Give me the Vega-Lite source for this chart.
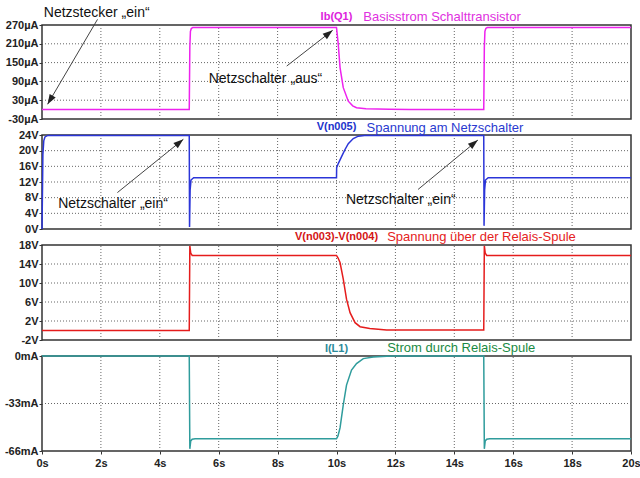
{
  "$schema": "https://vega.github.io/schema/vega-lite/v6.json",
  "padding": {"left": 3, "top": 5, "right": 0, "bottom": 0},
  "background": "white",
  "config": {
    "font": "Liberation Sans",
    "view": {"stroke": "#333333", "strokeWidth": 1.5},
    "axis": {"labelFont": "Liberation Sans", "labelFontWeight": "bold", "labelFontSize": 11, "labelColor": "#222222", "tickColor": "#333333", "tickSize": 3, "labelPadding": 1, "domain": false, "labelOverlap": false, "labelBound": false, "labelFlush": false, "grid": false}
  },
  "datasets": {
    "grid": [
      {"panel": 1, "t": 2, "v": -30, "t2": 2, "v2": 270}, {"panel": 1, "t": 4, "v": -30, "t2": 4, "v2": 270}, {"panel": 1, "t": 6, "v": -30, "t2": 6, "v2": 270}, {"panel": 1, "t": 8, "v": -30, "t2": 8, "v2": 270}, {"panel": 1, "t": 10, "v": -30, "t2": 10, "v2": 270}, {"panel": 1, "t": 12, "v": -30, "t2": 12, "v2": 270}, {"panel": 1, "t": 14, "v": -30, "t2": 14, "v2": 270}, {"panel": 1, "t": 16, "v": -30, "t2": 16, "v2": 270}, {"panel": 1, "t": 18, "v": -30, "t2": 18, "v2": 270},
      {"panel": 1, "t": 0, "v": 30, "t2": 20, "v2": 30}, {"panel": 1, "t": 0, "v": 90, "t2": 20, "v2": 90}, {"panel": 1, "t": 0, "v": 150, "t2": 20, "v2": 150}, {"panel": 1, "t": 0, "v": 210, "t2": 20, "v2": 210},
      {"panel": 2, "t": 2, "v": 0, "t2": 2, "v2": 24}, {"panel": 2, "t": 4, "v": 0, "t2": 4, "v2": 24}, {"panel": 2, "t": 6, "v": 0, "t2": 6, "v2": 24}, {"panel": 2, "t": 8, "v": 0, "t2": 8, "v2": 24}, {"panel": 2, "t": 10, "v": 0, "t2": 10, "v2": 24}, {"panel": 2, "t": 12, "v": 0, "t2": 12, "v2": 24}, {"panel": 2, "t": 14, "v": 0, "t2": 14, "v2": 24}, {"panel": 2, "t": 16, "v": 0, "t2": 16, "v2": 24}, {"panel": 2, "t": 18, "v": 0, "t2": 18, "v2": 24},
      {"panel": 2, "t": 0, "v": 4, "t2": 20, "v2": 4}, {"panel": 2, "t": 0, "v": 8, "t2": 20, "v2": 8}, {"panel": 2, "t": 0, "v": 12, "t2": 20, "v2": 12}, {"panel": 2, "t": 0, "v": 16, "t2": 20, "v2": 16}, {"panel": 2, "t": 0, "v": 20, "t2": 20, "v2": 20},
      {"panel": 3, "t": 2, "v": -2, "t2": 2, "v2": 18}, {"panel": 3, "t": 4, "v": -2, "t2": 4, "v2": 18}, {"panel": 3, "t": 6, "v": -2, "t2": 6, "v2": 18}, {"panel": 3, "t": 8, "v": -2, "t2": 8, "v2": 18}, {"panel": 3, "t": 10, "v": -2, "t2": 10, "v2": 18}, {"panel": 3, "t": 12, "v": -2, "t2": 12, "v2": 18}, {"panel": 3, "t": 14, "v": -2, "t2": 14, "v2": 18}, {"panel": 3, "t": 16, "v": -2, "t2": 16, "v2": 18}, {"panel": 3, "t": 18, "v": -2, "t2": 18, "v2": 18},
      {"panel": 3, "t": 0, "v": 2, "t2": 20, "v2": 2}, {"panel": 3, "t": 0, "v": 6, "t2": 20, "v2": 6}, {"panel": 3, "t": 0, "v": 10, "t2": 20, "v2": 10}, {"panel": 3, "t": 0, "v": 14, "t2": 20, "v2": 14},
      {"panel": 4, "t": 2, "v": -66, "t2": 2, "v2": 0}, {"panel": 4, "t": 4, "v": -66, "t2": 4, "v2": 0}, {"panel": 4, "t": 6, "v": -66, "t2": 6, "v2": 0}, {"panel": 4, "t": 8, "v": -66, "t2": 8, "v2": 0}, {"panel": 4, "t": 10, "v": -66, "t2": 10, "v2": 0}, {"panel": 4, "t": 12, "v": -66, "t2": 12, "v2": 0}, {"panel": 4, "t": 14, "v": -66, "t2": 14, "v2": 0}, {"panel": 4, "t": 16, "v": -66, "t2": 16, "v2": 0}, {"panel": 4, "t": 18, "v": -66, "t2": 18, "v2": 0},
      {"panel": 4, "t": 0, "v": -33, "t2": 20, "v2": -33}
    ],
    "ib": [
      {"t": 0, "v": 0}, {"t": 5.0, "v": 0}, {"t": 5.02, "v": 200}, {"t": 5.04, "v": 250}, {"t": 5.07, "v": 259}, {"t": 5.12, "v": 262},
      {"t": 10.0, "v": 262}, {"t": 10.06, "v": 208}, {"t": 10.12, "v": 134}, {"t": 10.23, "v": 70}, {"t": 10.4, "v": 27}, {"t": 10.55, "v": 12}, {"t": 10.68, "v": 6}, {"t": 11.0, "v": 3}, {"t": 11.8, "v": 1}, {"t": 12.5, "v": 0},
      {"t": 15.0, "v": 0}, {"t": 15.02, "v": 200}, {"t": 15.04, "v": 250}, {"t": 15.07, "v": 259}, {"t": 15.12, "v": 262}, {"t": 20, "v": 262}
    ],
    "vn005": [
      {"t": 0, "v": 0}, {"t": 0.02, "v": 12}, {"t": 0.03, "v": 19}, {"t": 0.06, "v": 22.5}, {"t": 0.1, "v": 23.5}, {"t": 0.2, "v": 23.9},
      {"t": 5.0, "v": 23.9}, {"t": 5.01, "v": 0.5}, {"t": 5.03, "v": 10}, {"t": 5.06, "v": 12.5}, {"t": 5.15, "v": 13.1},
      {"t": 10.0, "v": 13.1}, {"t": 10.005, "v": 15.65}, {"t": 10.06, "v": 16.7}, {"t": 10.18, "v": 18.6}, {"t": 10.29, "v": 20.3}, {"t": 10.4, "v": 21.8}, {"t": 10.57, "v": 23.1}, {"t": 10.74, "v": 23.7}, {"t": 10.95, "v": 23.9},
      {"t": 15.0, "v": 23.9}, {"t": 15.01, "v": 0.8}, {"t": 15.03, "v": 10}, {"t": 15.06, "v": 12.5}, {"t": 15.15, "v": 13.1}, {"t": 20, "v": 13.1}
    ],
    "vrel": [
      {"t": 0, "v": 0}, {"t": 5.0, "v": 0}, {"t": 5.02, "v": 17.8}, {"t": 5.05, "v": 16.3}, {"t": 5.1, "v": 15.8},
      {"t": 10.0, "v": 15.8}, {"t": 10.05, "v": 15.3}, {"t": 10.12, "v": 14.3}, {"t": 10.23, "v": 10.8}, {"t": 10.34, "v": 6.6}, {"t": 10.46, "v": 3.75}, {"t": 10.63, "v": 1.65}, {"t": 10.8, "v": 0.8}, {"t": 11.13, "v": 0.4}, {"t": 11.7, "v": 0.1},
      {"t": 15.0, "v": 0.1}, {"t": 15.02, "v": 17.8}, {"t": 15.05, "v": 16.3}, {"t": 15.1, "v": 15.8}, {"t": 20, "v": 15.8}
    ],
    "il1": [
      {"t": 0, "v": 0}, {"t": 5.0, "v": 0}, {"t": 5.02, "v": -64.5}, {"t": 5.05, "v": -59}, {"t": 5.1, "v": -57.8}, {"t": 5.2, "v": -57.5},
      {"t": 10.0, "v": -57.5}, {"t": 10.05, "v": -55.5}, {"t": 10.12, "v": -50}, {"t": 10.23, "v": -33.9}, {"t": 10.34, "v": -20.2}, {"t": 10.51, "v": -9.8}, {"t": 10.68, "v": -5.3}, {"t": 10.91, "v": -1.8}, {"t": 11.25, "v": -0.7}, {"t": 11.7, "v": -0.2}, {"t": 12, "v": 0},
      {"t": 15.0, "v": 0}, {"t": 15.02, "v": -64.5}, {"t": 15.05, "v": -59}, {"t": 15.1, "v": -57.8}, {"t": 15.2, "v": -57.5}, {"t": 20, "v": -57.5}
    ],
    "notes": [
      {"panel": 1, "kind": "note", "t": 0.06, "v": 308, "text": "Netzstecker „ein“"},
      {"panel": 1, "kind": "note", "t": 5.66, "v": 97, "text": "Netzschalter „aus“"},
      {"panel": 2, "kind": "note", "t": 0.55, "v": 6.3, "text": "Netzschalter „ein“"},
      {"panel": 2, "kind": "note", "t": 10.32, "v": 7.3, "text": "Netzschalter „ein“"},
      {"panel": 1, "kind": "name", "t": 10, "v": 295.5, "text": "Ib(Q1)"},
      {"panel": 1, "kind": "desc", "t": 10.91, "v": 297, "text": "Basisstrom Schalttransistor"},
      {"panel": 2, "kind": "name", "t": 10, "v": 26.0, "text": "V(n005)"},
      {"panel": 2, "kind": "desc", "t": 11.02, "v": 25.7, "text": "Spannung am Netzschalter"},
      {"panel": 3, "kind": "name", "t": 10, "v": 19.7, "text": "V(n003)-V(n004)"},
      {"panel": 3, "kind": "desc", "t": 11.72, "v": 19.6, "text": "Spannung über der Relais-Spule"},
      {"panel": 4, "kind": "name", "t": 10, "v": 5.0, "text": "I(L1)"},
      {"panel": 4, "kind": "desc", "t": 11.72, "v": 5.3, "text": "Strom durch Relais-Spule"}
    ],
    "arrows": [
      {"panel": 1, "id": "a1", "t": 0.19, "v": 17, "t2": 1.885, "v2": 288},
      {"panel": 1, "id": "a2", "t": 9.87, "v": 253, "t2": 8.31, "v2": 139},
      {"panel": 2, "id": "a3", "t": 4.8, "v": 22.9, "t2": 2.56, "v2": 9.3},
      {"panel": 2, "id": "a4", "t": 14.8, "v": 22.7, "t2": 12.77, "v2": 10.1}
    ]
  },
  "vconcat": [
    {
      "width": 589, "height": 94,
      "encoding": {
        "x": {"field": "t", "type": "quantitative", "scale": {"domain": [0, 20], "nice": false}, "axis": {"values": [0, 2, 4, 6, 8, 10, 12, 14, 16, 18, 20], "labels": false, "ticks": false, "title": null}},
        "y": {"field": "v", "type": "quantitative", "scale": {"domain": [-30, 270], "nice": false, "zero": false}, "axis": {"values": [-30, 30, 90, 150, 210, 270], "labelExpr": "datum.value + 'µA'", "title": null}}
      },
      "layer": [
        {"data": {"name": "grid"}, "transform": [{"filter": "datum.panel == 1"}], "mark": {"type": "rule", "color": "#666666", "strokeWidth": 1, "strokeDash": [1, 2]},
         "encoding": {"x2": {"field": "t2"}, "y2": {"field": "v2"}}},
        {"data": {"name": "ib"}, "mark": {"type": "line", "color": "#ee22ee", "strokeWidth": 1.5}},
        {"data": {"name": "arrows"}, "transform": [{"filter": "datum.panel == 1"}], "mark": {"type": "rule", "color": "#444444", "strokeWidth": 1},
         "encoding": {"x2": {"field": "t2"}, "y2": {"field": "v2"}}},
        {"data": {"name": "arrows"}, "transform": [{"filter": "datum.id == 'a1'"}], "mark": {"type": "point", "shape": "M0,0L-0.35,1L0.35,1Z", "size": 400, "filled": true, "opacity": 1, "color": "#222222", "angle": 210.5}},
        {"data": {"name": "arrows"}, "transform": [{"filter": "datum.id == 'a2'"}], "mark": {"type": "point", "shape": "M0,0L-0.35,1L0.35,1Z", "size": 400, "filled": true, "opacity": 1, "color": "#222222", "angle": 52}},
        {"data": {"name": "notes"}, "transform": [{"filter": "datum.panel == 1 && datum.kind == 'note'"}], "mark": {"type": "text", "align": "left", "baseline": "middle", "fontSize": 14, "color": "#111111"},
         "encoding": {"text": {"field": "text"}}},
        {"data": {"name": "notes"}, "transform": [{"filter": "datum.panel == 1 && datum.kind == 'name'"}], "mark": {"type": "text", "align": "center", "baseline": "middle", "fontSize": 11, "fontWeight": "bold", "color": "#dd22dd"},
         "encoding": {"text": {"field": "text"}}},
        {"data": {"name": "notes"}, "transform": [{"filter": "datum.panel == 1 && datum.kind == 'desc'"}], "mark": {"type": "text", "align": "left", "baseline": "middle", "fontSize": 13, "color": "#e030e0"},
         "encoding": {"text": {"field": "text"}}}
      ]
    },
    {
      "width": 589, "height": 94,
      "encoding": {
        "x": {"field": "t", "type": "quantitative", "scale": {"domain": [0, 20], "nice": false}, "axis": {"values": [0, 2, 4, 6, 8, 10, 12, 14, 16, 18, 20], "labels": false, "ticks": false, "title": null}},
        "y": {"field": "v", "type": "quantitative", "scale": {"domain": [0, 24], "nice": false, "zero": false}, "axis": {"values": [0, 4, 8, 12, 16, 20, 24], "labelExpr": "datum.value + 'V'", "title": null}}
      },
      "layer": [
        {"data": {"name": "grid"}, "transform": [{"filter": "datum.panel == 2"}], "mark": {"type": "rule", "color": "#666666", "strokeWidth": 1, "strokeDash": [1, 2]},
         "encoding": {"x2": {"field": "t2"}, "y2": {"field": "v2"}}},
        {"data": {"name": "vn005"}, "mark": {"type": "line", "color": "#2b35d8", "strokeWidth": 1.5}},
        {"data": {"name": "arrows"}, "transform": [{"filter": "datum.panel == 2"}], "mark": {"type": "rule", "color": "#444444", "strokeWidth": 1},
         "encoding": {"x2": {"field": "t2"}, "y2": {"field": "v2"}}},
        {"data": {"name": "arrows"}, "transform": [{"filter": "datum.panel == 2"}], "mark": {"type": "point", "shape": "M0,0L-0.35,1L0.35,1Z", "size": 400, "filled": true, "opacity": 1, "color": "#222222", "angle": 51}},
        {"data": {"name": "notes"}, "transform": [{"filter": "datum.panel == 2 && datum.kind == 'note'"}], "mark": {"type": "text", "align": "left", "baseline": "middle", "fontSize": 14, "color": "#111111"},
         "encoding": {"text": {"field": "text"}}},
        {"data": {"name": "notes"}, "transform": [{"filter": "datum.panel == 2 && datum.kind == 'name'"}], "mark": {"type": "text", "align": "center", "baseline": "middle", "fontSize": 11, "fontWeight": "bold", "color": "#2233cc"},
         "encoding": {"text": {"field": "text"}}},
        {"data": {"name": "notes"}, "transform": [{"filter": "datum.panel == 2 && datum.kind == 'desc'"}], "mark": {"type": "text", "align": "left", "baseline": "middle", "fontSize": 13, "color": "#2a3ad0"},
         "encoding": {"text": {"field": "text"}}}
      ]
    },
    {
      "width": 589, "height": 95,
      "encoding": {
        "x": {"field": "t", "type": "quantitative", "scale": {"domain": [0, 20], "nice": false}, "axis": {"values": [0, 2, 4, 6, 8, 10, 12, 14, 16, 18, 20], "labels": false, "ticks": false, "title": null}},
        "y": {"field": "v", "type": "quantitative", "scale": {"domain": [-2, 18], "nice": false, "zero": false}, "axis": {"values": [-2, 2, 6, 10, 14, 18], "labelExpr": "datum.value + 'V'", "title": null}}
      },
      "layer": [
        {"data": {"name": "grid"}, "transform": [{"filter": "datum.panel == 3"}], "mark": {"type": "rule", "color": "#666666", "strokeWidth": 1, "strokeDash": [1, 2]},
         "encoding": {"x2": {"field": "t2"}, "y2": {"field": "v2"}}},
        {"data": {"name": "vrel"}, "mark": {"type": "line", "color": "#e51c1c", "strokeWidth": 1.5}},
        {"data": {"name": "notes"}, "transform": [{"filter": "datum.panel == 3 && datum.kind == 'name'"}], "mark": {"type": "text", "align": "center", "baseline": "middle", "fontSize": 11, "fontWeight": "bold", "color": "#d41414"},
         "encoding": {"text": {"field": "text"}}},
        {"data": {"name": "notes"}, "transform": [{"filter": "datum.panel == 3 && datum.kind == 'desc'"}], "mark": {"type": "text", "align": "left", "baseline": "middle", "fontSize": 13, "color": "#e52222"},
         "encoding": {"text": {"field": "text"}}}
      ]
    },
    {
      "width": 589, "height": 95,
      "encoding": {
        "x": {"field": "t", "type": "quantitative", "scale": {"domain": [0, 20], "nice": false}, "axis": {"values": [0, 2, 4, 6, 8, 10, 12, 14, 16, 18, 20], "labelExpr": "datum.value + 's'", "labelPadding": 3, "tickSize": 3, "title": null}},
        "y": {"field": "v", "type": "quantitative", "scale": {"domain": [-66, 0], "nice": false, "zero": false}, "axis": {"values": [-66, -33, 0], "labelExpr": "datum.value + 'mA'", "title": null}}
      },
      "layer": [
        {"data": {"name": "grid"}, "transform": [{"filter": "datum.panel == 4"}], "mark": {"type": "rule", "color": "#666666", "strokeWidth": 1, "strokeDash": [1, 2]},
         "encoding": {"x2": {"field": "t2"}, "y2": {"field": "v2"}}},
        {"data": {"name": "il1"}, "mark": {"type": "line", "color": "#2f9c9c", "strokeWidth": 1.5}},
        {"data": {"name": "notes"}, "transform": [{"filter": "datum.panel == 4 && datum.kind == 'name'"}], "mark": {"type": "text", "align": "center", "baseline": "middle", "fontSize": 11, "fontWeight": "bold", "color": "#2a8a9a"},
         "encoding": {"text": {"field": "text"}}},
        {"data": {"name": "notes"}, "transform": [{"filter": "datum.panel == 4 && datum.kind == 'desc'"}], "mark": {"type": "text", "align": "left", "baseline": "middle", "fontSize": 13, "color": "#1a8a44"},
         "encoding": {"text": {"field": "text"}}}
      ]
    }
  ],
  "spacing": 16,
  "bounds": "flush"
}
